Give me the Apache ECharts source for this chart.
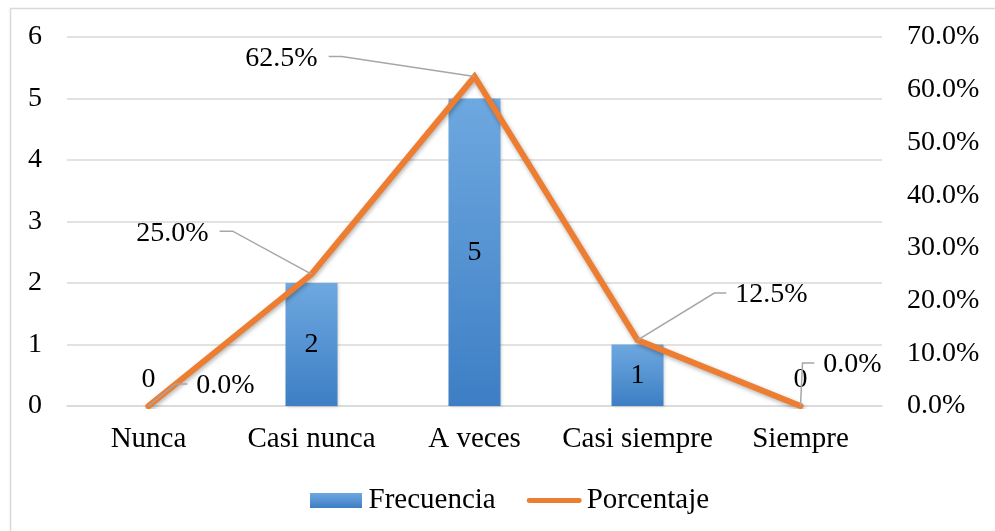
<!DOCTYPE html>
<html>
<head>
<meta charset="utf-8">
<script src="https://cdn.jsdelivr.net/npm/echarts@6/dist/echarts.min.js"></script>
<style>
  html, body { margin: 0; padding: 0; background: #fff; }
  #chart { width: 995px; height: 531px; }
</style>
</head>
<body>
<div id="chart"></div>
<script>
// Response categories and counts
const categories = ['Nunca', 'Casi nunca', 'A veces', 'Casi siempre', 'Siempre'];
const frecuencia = [0, 2, 5, 1, 0];
const porcentaje = [0, 0.25, 0.625, 0.125, 0];
const leftTicks = { min: 0, max: 6, interval: 1 };
const rightTicks = { min: 0, max: 0.7, interval: 0.1 };

// Where each percentage label sits relative to its point (dx, dy of label centre)
const pctLabelOffsets = [[77, -20], [-139, -41], [-193, -18], [134, -45], [52, -41]];

const FONT = '"Liberation Serif", "Times New Roman", serif';
const FS = 28;
const FS_CAT = 29;
const FONT_CSS = FS + 'px ' + FONT;
const GRID_COLOR = '#d9d9d9';
const LEADER_COLOR = '#a6a6a6';
const ORANGE = '#ED7D31';

const pct = v => (v * 100).toFixed(1) + '%';

// text measuring for placing the leader lines against the label edges
const measureCtx = document.createElement('canvas').getContext('2d');
measureCtx.font = FONT_CSS;
const textWidth = s => measureCtx.measureText(s).width;

const chart = echarts.init(document.getElementById('chart'), null, { renderer: 'canvas' });

const barGradient = new echarts.graphic.LinearGradient(0, 0, 0, 1, [
  { offset: 0, color: '#6ea8e0' },
  { offset: 1, color: '#3d7ec4' }
]);

// Percentage labels with elbow leader lines, positioned from the line's own points
function renderPctLabel(params, api) {
  const idx = api.value(0);
  const val = api.value(1);
  const pt = api.coord([idx, val]);
  const off = pctLabelOffsets[params.dataIndex];
  const text = pct(val);
  const lx = pt[0] + off[0];
  const ly = pt[1] + off[1];
  const halfW = textWidth(text) / 2;
  const lineY = ly - 2;
  let endX, elbowX;
  if (off[0] < 0) {
    endX = lx + halfW + 11;
    elbowX = endX + 13;
  } else {
    endX = lx - halfW - 9;
    elbowX = Math.max(endX - 12, pt[0] + 2);
  }
  return {
    type: 'group',
    children: [
      {
        type: 'polyline',
        shape: { points: [[pt[0], pt[1]], [elbowX, lineY], [endX, lineY]] },
        style: { stroke: LEADER_COLOR, lineWidth: 1.5, fill: null },
        z2: 1
      },
      {
        type: 'text',
        x: lx,
        y: ly,
        style: {
          text: text,
          font: FONT_CSS,
          fill: '#000',
          align: 'center',
          verticalAlign: 'middle'
        },
        z2: 2
      }
    ]
  };
}

chart.setOption({
  backgroundColor: '#ffffff',
  animation: false,
  textStyle: { fontFamily: FONT, color: '#000' },
  graphic: [{
    type: 'rect',
    shape: { x: 10.5, y: 8.5, width: 1000, height: 600 },
    style: { fill: 'none', stroke: '#d9d9d9', lineWidth: 1.5 },
    silent: true,
    z: -10
  }],
  grid: {
    left: 67, right: 113, top: 37, bottom: 125,
    containLabel: false,
    outerBoundsMode: 'none'
  },
  legend: {
    left: 305,
    top: 481,
    itemGap: 31,
    itemWidth: 55,
    itemHeight: 15,
    textStyle: { fontFamily: FONT, fontSize: FS_CAT, color: '#000' },
    data: [
      { name: 'Frecuencia', icon: 'path://M0,0 L52,0 L52,15 L0,15 Z' },
      { name: 'Porcentaje', icon: 'path://M2.5,0 L54.5,0 A2.5,2.5 0 0 1 54.5,5 L2.5,5 A2.5,2.5 0 0 1 2.5,0 Z' }
    ]
  },
  xAxis: {
    type: 'category',
    data: categories,
    boundaryGap: true,
    axisLine: { show: true, lineStyle: { color: GRID_COLOR, width: 1.5 } },
    axisTick: { show: false },
    axisLabel: { interval: 0, fontFamily: FONT, fontSize: FS_CAT, color: '#000', margin: 19 }
  },
  yAxis: [
    {
      type: 'value',
      min: leftTicks.min, max: leftTicks.max, interval: leftTicks.interval,
      axisLine: { show: false },
      axisTick: { show: false },
      splitLine: { show: true, lineStyle: { color: GRID_COLOR, width: 1.5 } },
      axisLabel: { fontFamily: FONT, fontSize: FS, color: '#000', margin: 25 }
    },
    {
      type: 'value',
      position: 'right',
      min: rightTicks.min, max: rightTicks.max, interval: rightTicks.interval,
      axisLine: { show: false },
      axisTick: { show: false },
      splitLine: { show: false },
      axisLabel: {
        fontFamily: FONT, fontSize: FS, color: '#000', margin: 25,
        formatter: pct
      }
    }
  ],
  series: [
    {
      name: 'Frecuencia',
      type: 'bar',
      yAxisIndex: 0,
      barWidth: 52,
      itemStyle: {
        color: barGradient,
        shadowColor: 'rgba(0,0,0,0.18)',
        shadowBlur: 3,
        shadowOffsetX: 1,
        shadowOffsetY: 1
      },
      data: frecuencia.map(v => ({
        value: v,
        label: {
          show: true,
          position: v === 0 ? 'top' : 'inside',
          distance: 12,
          fontFamily: FONT, fontSize: FS, color: '#000'
        }
      })),
      z: 2
    },
    {
      name: 'Porcentaje',
      type: 'line',
      yAxisIndex: 1,
      data: porcentaje,
      showSymbol: false,
      symbol: 'none',
      itemStyle: { color: ORANGE },
      lineStyle: {
        color: ORANGE,
        width: 6,
        cap: 'round',
        join: 'miter',
        shadowColor: 'rgba(0,0,0,0.3)',
        shadowBlur: 4,
        shadowOffsetX: 1,
        shadowOffsetY: 2
      },
      z: 3
    },
    {
      type: 'custom',
      yAxisIndex: 1,
      data: porcentaje.map((v, i) => [i, v]),
      renderItem: renderPctLabel,
      silent: true,
      z: 4
    }
  ]
});
</script>
</body>
</html>
